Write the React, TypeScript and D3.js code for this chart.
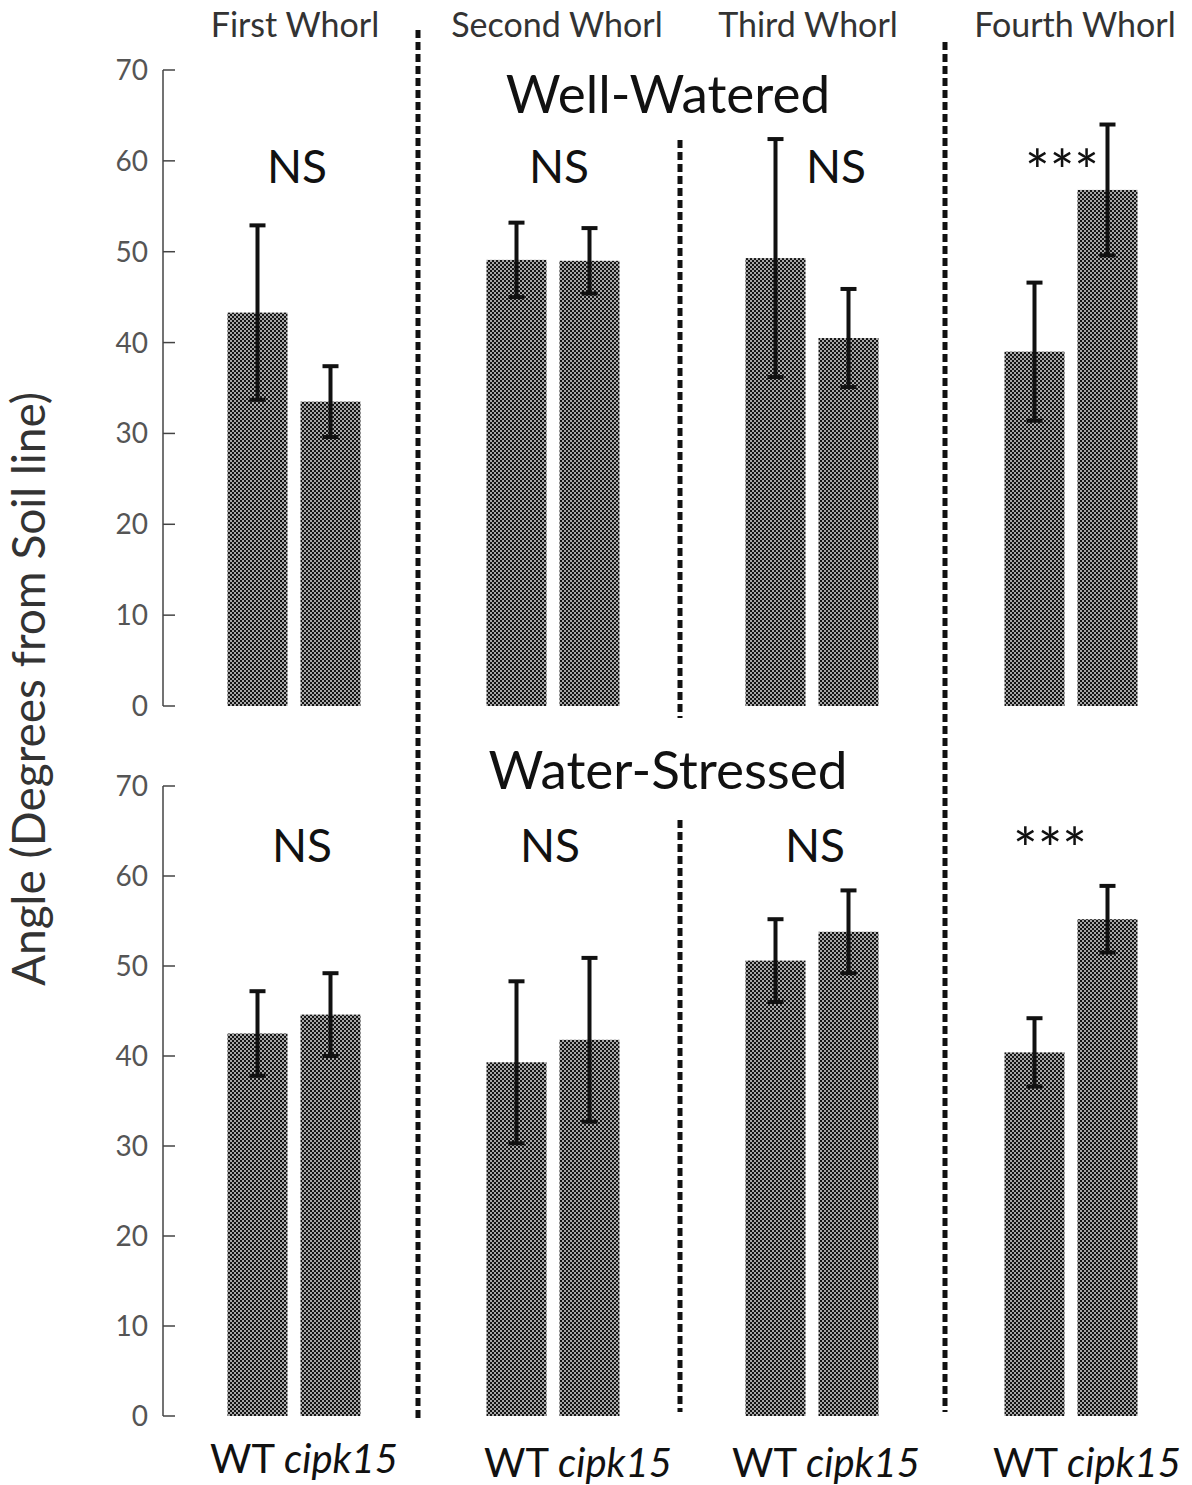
import React from "react";
import * as d3 from "d3";

const whorls = ["First Whorl", "Second Whorl", "Third Whorl", "Fourth Whorl"];
const genotypes = ["WT", "cipk15"];
const yTicks = [0, 10, 20, 30, 40, 50, 60, 70];

const wwWT = [43.3, 49.1, 49.3, 39.0];
const wwWTErr = [9.6, 4.1, 13.1, 7.6];
const wwCipk = [33.5, 49.0, 40.5, 56.8];
const wwCipkErr = [3.9, 3.6, 5.4, 7.2];

const wsWT = [42.5, 39.3, 50.6, 40.4];
const wsWTErr = [4.7, 9.0, 4.6, 3.8];
const wsCipk = [44.6, 41.8, 53.8, 55.2];
const wsCipkErr = [4.6, 9.1, 4.6, 3.7];

const wwSig = ["NS", "NS", "NS", "***"];
const wsSig = ["NS", "NS", "NS", "***"];

const W = 1192;
const H = 1485;
const FONT = "Lato, 'Open Sans', sans-serif";

export default function App() {
  const x0 = d3.scaleBand<string>().domain(whorls).range([164.5, 1200.5]).padding(0);
  const x1 = d3.scaleBand<string>().domain(genotypes).range([63, 196]).paddingInner(0.178).paddingOuter(0);
  const yTop = d3.scaleLinear().domain([0, 70]).range([706, 70]);
  const yBot = d3.scaleLinear().domain([0, 70]).range([1416, 786]);

  const panels = [
    { y: yTop, wt: wwWT, wtE: wwWTErr, ck: wwCipk, ckE: wwCipkErr, sig: wwSig, axisX: 163,
      nsX: [297, 559, 836, 1062], nsY: [183, 183, 183, 192], title: "Well-Watered", titleY: 113 },
    { y: yBot, wt: wsWT, wtE: wsWTErr, ck: wsCipk, ckE: wsCipkErr, sig: wsSig, axisX: 163,
      nsX: [302, 550, 815, 1050], nsY: [862, 862, 862, 870], title: "Water-Stressed", titleY: 789 },
  ];

  const labelX = [304, 578, 826, 1087];
  const labelY = [1473, 1477, 1477, 1477];
  const whorlTitleX = [295, 557, 808, 1075];

  return (
    <svg width={W} height={H} style={{ display: "block", position: "absolute", left: 0, top: 0, background: "#fff" }}>
      <defs>
        <pattern id="checker" width="4" height="4" patternUnits="userSpaceOnUse">
          <rect width="4" height="4" fill="#a8a8a8" />
          <rect x="0" y="0" width="2" height="2" fill="#151515" />
          <rect x="2" y="2" width="2" height="2" fill="#151515" />
        </pattern>
      </defs>
      <rect width={W} height={H} fill="#fff" />

      {whorls.map((w, i) => (
        <text key={w} x={whorlTitleX[i]} y={37} textAnchor="middle" fontFamily={FONT} fontSize={34} fill="#333">
          {w}
        </text>
      ))}

      {panels.map((p, pi) => (
        <g key={pi}>
          <line x1={p.axisX} x2={p.axisX} y1={p.y(70)} y2={p.y(0)} stroke="#444" strokeWidth={1.5} />
          {yTicks.map((t) => (
            <g key={t}>
              <line x1={p.axisX} x2={p.axisX + 12} y1={p.y(t)} y2={p.y(t)} stroke="#444" strokeWidth={1.5} />
              <text x={148} y={p.y(t) + 10} textAnchor="end" fontFamily={FONT} fontSize={28} fill="#555">
                {t}
              </text>
            </g>
          ))}
          <text x={668} y={p.titleY} textAnchor="middle" fontFamily={FONT} fontSize={53} fill="#111">
            {p.title}
          </text>
          {whorls.map((w, i) => {
            const gx = x0(w)!;
            const vals = [
              { g: "WT", v: p.wt[i], e: p.wtE[i] },
              { g: "cipk15", v: p.ck[i], e: p.ckE[i] },
            ];
            return (
              <g key={w}>
                {vals.map((d) => {
                  const bx = gx + x1(d.g)!;
                  const cx = bx + x1.bandwidth() / 2;
                  return (
                    <g key={d.g}>
                      <rect x={bx} y={p.y(d.v)} width={x1.bandwidth()} height={p.y(0) - p.y(d.v)} fill="url(#checker)" />
                      <line x1={cx} x2={cx} y1={p.y(d.v - d.e)} y2={p.y(d.v + d.e)} stroke="#111" strokeWidth={4} />
                      <line x1={cx - 8} x2={cx + 8} y1={p.y(d.v + d.e)} y2={p.y(d.v + d.e)} stroke="#111" strokeWidth={4} />
                      <line x1={cx - 8} x2={cx + 8} y1={p.y(d.v - d.e)} y2={p.y(d.v - d.e)} stroke="#111" strokeWidth={4} />
                    </g>
                  );
                })}
                <text x={p.nsX[i]} y={p.nsY[i]} textAnchor="middle" fontFamily={FONT} fontSize={p.sig[i] === "NS" ? 46 : 58} fill="#111">
                  {p.sig[i]}
                </text>
              </g>
            );
          })}
        </g>
      ))}

      {/* dividers */}
      <line x1={418} x2={418} y1={30} y2={1418} stroke="#111" strokeWidth={5} strokeDasharray="8,4" />
      <line x1={945} x2={945} y1={42} y2={1412} stroke="#111" strokeWidth={5} strokeDasharray="8,4" />
      <line x1={680} x2={680} y1={140} y2={718} stroke="#111" strokeWidth={5} strokeDasharray="8,4" />
      <line x1={680} x2={680} y1={820} y2={1412} stroke="#111" strokeWidth={5} strokeDasharray="8,4" />

      <text transform={`translate(45,689) rotate(-90)`} textAnchor="middle" fontFamily={FONT} fontSize={46} fill="#333">
        Angle (Degrees from Soil line)
      </text>

      {whorls.map((w, i) => (
        <text key={w} x={labelX[i]} y={labelY[i]} textAnchor="middle" fontFamily={FONT} fontSize={40} fill="#111">
          <tspan>WT </tspan>
          <tspan fontStyle="italic">cipk15</tspan>
        </text>
      ))}
    </svg>
  );
}
